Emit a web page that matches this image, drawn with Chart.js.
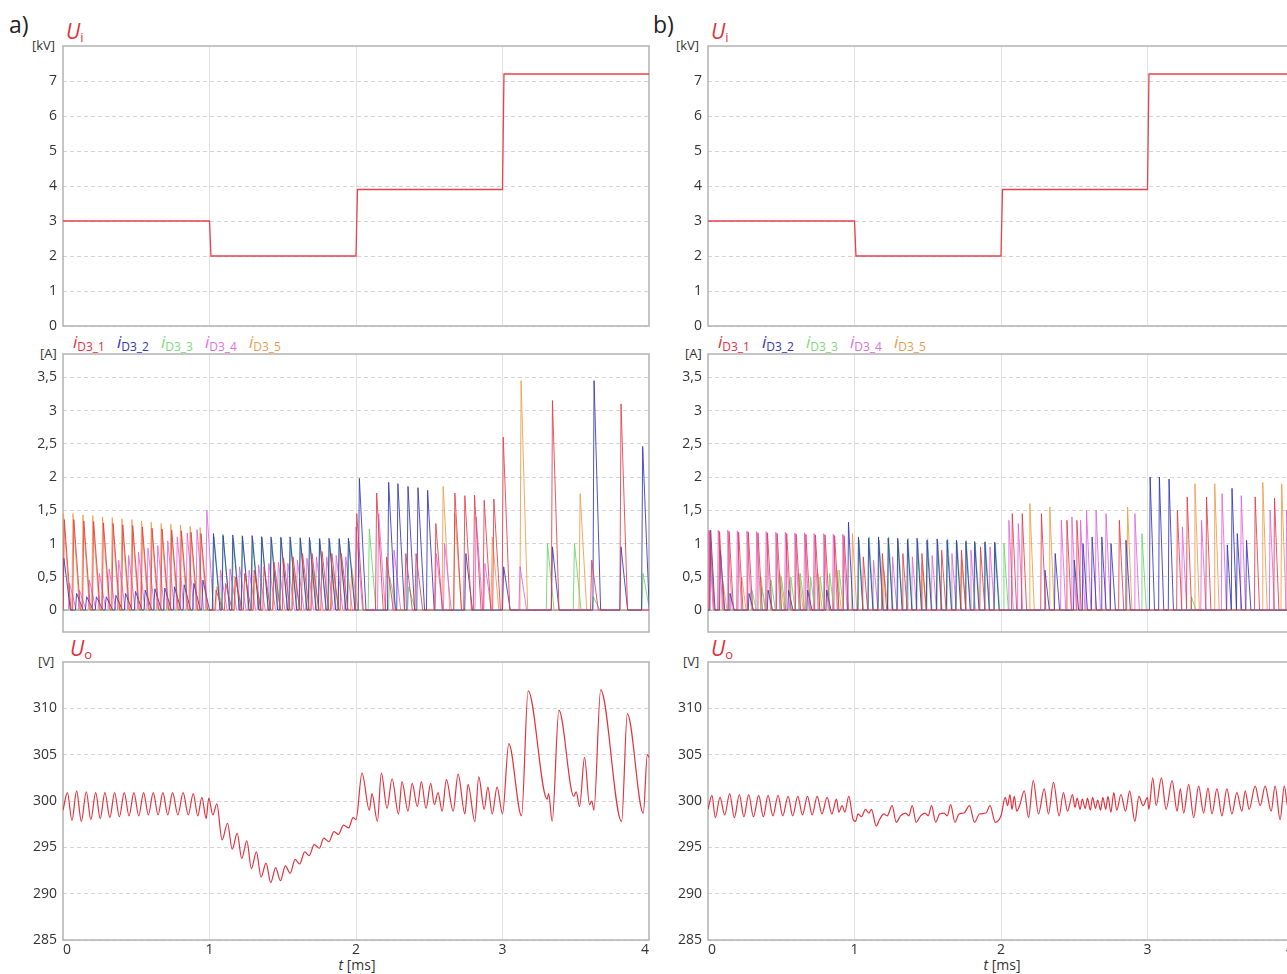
<!DOCTYPE html>
<html>
<head>
<meta charset="utf-8">
<script src="https://cdn.jsdelivr.net/npm/chart.js@4.4.1/dist/chart.umd.min.js"></script>
<style>
  body { margin:0; width:1287px; height:974px; overflow:hidden; background:#fff; position:relative; font-family:'Open Sans', sans-serif; }
  canvas { position:absolute; }
  .t { position:absolute; white-space:nowrap; color:#333; line-height:1; }
  .tag { font-size:23px; color:#222; }
  .unit { font-size:13px; }
  .U { color:#e0303c; font-size:21px; }
  .U sub { font-size:13px; vertical-align:-3px; }
  .leg span { display:inline-block; width:44px; }
  .leg i { font-size:17px; }
  .leg sub { font-size:12px; vertical-align:-3px; }
  .ax { font-size:14px; transform:translateX(-50%); }
</style>
</head>
<body>
<div class="t tag" style="left:9px;top:13px">a)</div>
<div class="t tag" style="left:653px;top:13px">b)</div>

<div class="t unit" style="left:32px;top:39px">[kV]</div>
<div class="t unit" style="left:676px;top:39px">[kV]</div>
<div class="t U" style="left:66px;top:21px"><i>U</i><sub>i</sub></div>
<div class="t U" style="left:711px;top:21px"><i>U</i><sub>i</sub></div>

<div class="t leg" id="legA" style="left:73px;top:333px"></div>
<div class="t leg" id="legB" style="left:718px;top:333px"></div>
<div class="t unit" style="left:40px;top:347px">[A]</div>
<div class="t unit" style="left:685px;top:347px">[A]</div>

<div class="t U" style="left:70px;top:638px"><i>U</i><sub>o</sub></div>
<div class="t U" style="left:711px;top:638px"><i>U</i><sub>o</sub></div>
<div class="t unit" style="left:38px;top:655px">[V]</div>
<div class="t unit" style="left:683px;top:655px">[V]</div>

<div class="t ax" style="left:357px;top:958px"><i>t</i> [ms]</div>
<div class="t ax" style="left:1002px;top:958px"><i>t</i> [ms]</div>

<canvas id="aUi" width="660" height="300" style="left:0;top:40px"></canvas>
<canvas id="aI" width="660" height="300" style="left:0;top:348px"></canvas>
<canvas id="aUo" width="660" height="318" style="left:0;top:656px"></canvas>
<canvas id="bUi" width="660" height="300" style="left:645px;top:40px"></canvas>
<canvas id="bI" width="660" height="300" style="left:645px;top:348px"></canvas>
<canvas id="bUo" width="660" height="318" style="left:645px;top:656px"></canvas>

<script>
// axes
const tTicks = [0, 1, 2, 3, 4];
const uiTicks = [0, 1, 2, 3, 4, 5, 6, 7];
const iTicks = [0, 0.5, 1, 1.5, 2, 2.5, 3, 3.5];
const uoTicks = [285, 290, 295, 300, 305, 310];

// input voltage Ui [kV] (same in a and b)
const uiT = [0, 1, 1.01, 2, 2.01, 3, 3.01, 4];
const uiV = [3, 3, 2, 2, 3.9, 3.9, 7.2, 7.2];

// diode current pulses, panel a: peak time [ms] and peak value [A]
const aD1T = [0.009, 0.074, 0.142, 0.209, 0.276, 0.342, 0.408, 0.476, 0.542, 0.608, 0.676, 0.742, 0.808, 0.874, 0.942,
  1.045, 1.11, 1.175, 1.24, 1.305, 1.372, 1.44, 1.505, 1.57, 1.635, 1.7, 1.768, 1.835, 1.9, 2.005,
  2.141, 2.209, 2.34, 2.41, 2.545, 2.675, 2.743, 2.809, 2.875, 2.941, 3.005, 3.341, 3.609, 3.809];
const aD1P = [1.36, 1.36, 1.34, 1.33, 1.31, 1.3, 1.28, 1.27, 1.25, 1.23, 1.22, 1.2, 1.19, 1.17, 1.15,
  0.3, 0.4, 0.5, 0.55, 0.6, 0.65, 0.72, 0.78, 0.8, 0.85, 0.85, 0.88, 0.85, 0.85, 1.45,
  1.76, 0.8, 0.85, 0.85, 1.3, 1.76, 1.72, 1.73, 1.65, 1.67, 2.6, 3.15, 0.75, 3.1];
const aD2T = [0.006, 0.093, 0.161, 0.228, 0.295, 0.361, 0.427, 0.495, 0.561, 0.627, 0.695, 0.761, 0.827, 0.893, 0.955,
  1.027, 1.093, 1.159, 1.225, 1.291, 1.357, 1.42, 1.488, 1.55, 1.62, 1.682, 1.752, 1.816, 1.886, 1.948,
  2.023, 2.223, 2.286, 2.355, 2.423, 2.489, 2.75, 3.008, 3.341, 3.625, 3.809, 3.957];
const aD2P = [0.78, 0.25, 0.2, 0.2, 0.2, 0.22, 0.25, 0.28, 0.3, 0.32, 0.33, 0.35, 0.38, 0.4, 0.45,
  1.15, 1.12, 1.13, 1.11, 1.12, 1.1, 1.1, 1.09, 1.1, 1.08, 1.09, 1.07, 1.08, 1.07, 1.08,
  1.98, 1.92, 1.9, 1.86, 1.84, 1.8, 0.85, 0.65, 0.95, 3.45, 0.95, 2.46];
const aD3T = [1.031, 1.091, 1.163, 1.223, 1.295, 1.355, 1.424, 1.486, 1.554, 1.618, 1.686, 1.75, 1.82, 1.884, 1.952,
  2.091, 2.23, 2.36, 3.307, 3.491, 3.62, 3.959];
const aD3P = [1.1, 1.14, 1.08, 1.12, 1.07, 1.11, 1.06, 1.1, 1.05, 1.09, 1.05, 1.08, 1.04, 1.08, 1.04,
  1.22, 0.5, 0.35, 1.0, 1.0, 0.2, 0.55];
const aD4T = [0.045, 0.112, 0.18, 0.248, 0.315, 0.38, 0.448, 0.515, 0.58, 0.647, 0.715, 0.78, 0.848, 0.915, 0.982,
  1.075, 1.14, 1.205, 1.27, 1.335, 1.405, 1.47, 1.535, 1.6, 1.665, 1.73, 1.8, 1.865, 1.93, 2.0,
  2.155, 2.26, 2.548, 2.605, 2.82, 2.88, 3.12];
const aD4P = [0.4, 0.3, 0.45, 0.55, 0.62, 0.75, 0.82, 0.87, 0.93, 0.97, 1.04, 1.1, 1.16, 1.21, 1.5,
  0.6, 0.62, 0.65, 0.6, 0.68, 0.7, 0.72, 0.7, 0.75, 0.78, 0.8, 0.8, 0.82, 0.8, 1.25,
  1.45, 0.9, 0.85, 1.0, 1.4, 0.7, 0.65];
const aD5T = [0.003, 0.068, 0.136, 0.203, 0.27, 0.336, 0.402, 0.47, 0.536, 0.602, 0.67, 0.736, 0.802, 0.868, 0.936,
  1.05, 1.18, 1.31, 1.44, 1.575, 1.705, 1.84, 1.97, 2.595, 2.675, 2.93, 3.127, 3.53];
const aD5P = [1.45, 1.45, 1.43, 1.42, 1.4, 1.39, 1.37, 1.36, 1.34, 1.32, 1.3, 1.29, 1.28, 1.26, 1.24,
  0.35, 0.45, 0.5, 0.55, 0.6, 0.62, 0.62, 0.65, 1.86, 1.45, 1.1, 3.45, 1.75];

// diode current pulses, panel b
const bD1T = [0.014, 0.079, 0.144, 0.209, 0.275, 0.341, 0.406, 0.472, 0.537, 0.602, 0.668, 0.733, 0.799, 0.864, 0.929,
  1.06, 1.19, 1.33, 1.46, 1.595, 1.73, 1.86,
  2.077, 2.145, 2.276, 2.45, 2.518, 2.808, 3.204, 3.271, 3.403, 3.735, 3.867, 3.99];
const bD1P = [1.18, 1.18, 1.18, 1.17, 1.17, 1.16, 1.16, 1.15, 1.15, 1.14, 1.14, 1.13, 1.13, 1.12, 1.12,
  0.8, 0.85, 0.85, 0.85, 0.9, 0.9, 0.95,
  1.45, 1.45, 1.45, 1.35, 1.35, 1.35, 1.5, 1.7, 1.7, 1.7, 1.68, 1.6];
const bD2T = [0.018, 0.084, 0.15, 0.28, 0.41, 0.55, 0.68, 0.81, 0.959,
  1.027, 1.096, 1.164, 1.23, 1.295, 1.362, 1.427, 1.495, 1.564, 1.632, 1.696, 1.76, 1.82, 1.89, 1.957,
  2.3, 2.37, 2.5, 2.56, 2.622, 2.688, 2.751, 2.853, 3.018, 3.081, 3.147, 3.545, 3.577, 3.613, 3.676];
const bD2P = [1.2, 0.9, 0.25, 0.25, 0.3, 0.3, 0.3, 0.3, 1.32,
  1.1, 1.08, 1.1, 1.08, 1.08, 1.06, 1.08, 1.05, 1.07, 1.05, 1.05, 1.03, 1.03, 1.02, 1.02,
  0.6, 0.85, 0.75, 1.0, 1.1, 1.1, 1.0, 1.05, 2.0, 2.0, 1.97, 0.98, 1.83, 1.15, 1.05];
const bD3T = [0.3, 0.365, 0.43, 0.5, 0.565, 0.63, 0.7, 0.765, 0.83, 0.895,
  1.031, 1.1, 1.168, 1.233, 1.299, 1.365, 1.431, 1.499, 1.568, 1.636, 1.7, 1.763, 1.824, 1.893, 1.961,
  2.02, 2.962, 3.3];
const bD3P = [0.3, 0.35, 0.45, 0.5, 0.5, 0.55, 0.5, 0.5, 0.55, 0.6,
  1.05, 1.1, 1.05, 1.1, 1.04, 1.08, 1.04, 1.07, 1.03, 1.07, 1.02, 1.05, 1.01, 1.03, 1.0,
  1.0, 1.15, 0.2];
const bD4T = [0.005, 0.07, 0.135, 0.2, 0.266, 0.332, 0.397, 0.463, 0.528, 0.593, 0.659, 0.724, 0.79, 0.855, 0.92,
  1.13, 1.26, 1.395, 1.53, 1.665, 1.795, 1.925,
  2.054, 2.118, 2.412, 2.484, 2.543, 2.584, 2.649, 2.717, 2.914, 3.238, 3.369, 3.509, 3.64, 3.837, 3.95];
const bD4P = [1.2, 1.2, 1.2, 1.19, 1.19, 1.18, 1.18, 1.17, 1.17, 1.16, 1.16, 1.15, 1.15, 1.14, 1.14,
  0.75, 0.8, 0.8, 0.82, 0.85, 0.9, 0.95,
  1.35, 1.3, 1.35, 1.4, 1.35, 1.5, 1.5, 1.45, 1.45, 1.25, 1.35, 1.75, 1.72, 1.5, 1.5];
const bD5T = [0.01, 0.1, 0.23, 0.36, 0.49, 0.62, 0.75, 0.88, 0.986, 1.2, 1.46, 1.73,
  2.197, 2.333, 2.864, 3.324, 3.459, 3.787, 3.916];
const bD5P = [1.2, 0.45, 0.5, 0.5, 0.55, 0.55, 0.55, 0.6, 1.15, 0.6, 0.7, 0.75,
  1.6, 1.55, 1.55, 1.9, 1.9, 1.92, 1.9];

// output voltage Uo [V], turning points
const uoAT = [0, 0.030, 0.061, 0.093, 0.125, 0.159, 0.19, 0.223, 0.254, 0.286, 0.32, 0.352, 0.385, 0.418, 0.451, 0.484,
  0.517, 0.55, 0.583, 0.616, 0.649, 0.682, 0.715, 0.748, 0.784, 0.82, 0.855, 0.889, 0.92, 0.948, 0.977, 0.995, 1.023,
  1.05, 1.086, 1.123, 1.155, 1.189, 1.22, 1.255, 1.286, 1.32, 1.352, 1.386, 1.418, 1.452, 1.484, 1.518, 1.55,
  1.585, 1.615, 1.65, 1.68, 1.715, 1.75, 1.78, 1.815, 1.85, 1.88, 1.915, 1.95, 1.98, 2.0,
  2.041, 2.091, 2.109, 2.146, 2.173, 2.212, 2.246, 2.29, 2.314, 2.355, 2.383, 2.419, 2.446, 2.478, 2.51, 2.535,
  2.56, 2.588, 2.617, 2.663, 2.697, 2.743, 2.765, 2.811, 2.838, 2.875, 2.9, 2.93, 2.963, 3.0,
  3.043, 3.13, 3.175, 3.305, 3.315, 3.339, 3.385, 3.487, 3.503, 3.526, 3.56, 3.594, 3.61, 3.624, 3.67, 3.813,
  3.852, 3.961, 3.989, 4.0];
const uoAV = [299.0, 300.9, 297.9, 301.1, 297.8, 301.0, 298.0, 300.9, 298.1, 300.9, 298.2, 300.9, 298.3, 300.9, 298.4, 300.9,
  298.4, 300.9, 298.5, 300.9, 298.5, 300.9, 298.5, 300.9, 298.5, 300.9, 298.5, 300.8, 298.4, 300.4, 298.1, 300.3, 298.5,
  299.7, 295.8, 297.6, 294.8, 296.5, 293.8, 295.7, 292.7, 294.5, 291.8, 293.3, 291.2, 292.8, 291.4, 293.0, 292.2,
  293.7, 293.2, 294.5, 294.1, 295.3, 294.9, 296.0, 295.6, 296.7, 296.4, 297.4, 297.1, 298.2, 298.0,
  303.0, 299.0, 300.8, 297.8, 303.0, 299.2, 302.4, 298.6, 302.1, 298.9, 301.9, 299.4, 302.1, 299.2, 301.9, 299.6,
  300.9, 298.9, 302.3, 298.9, 302.9, 298.6, 301.8, 297.8, 302.6, 299.1, 301.5, 298.6, 301.5, 298.6,
  306.2, 298.4, 311.9, 300.2, 300.8, 297.8, 309.8, 300.5, 301.0, 299.4, 304.7, 299.6, 300.0, 299.0, 312.0, 297.8,
  309.4, 298.7, 305.0, 304.7];
const uoBT = [0, 0.027, 0.05, 0.082, 0.114, 0.148, 0.18, 0.214, 0.245, 0.278, 0.31, 0.346, 0.378, 0.41, 0.443, 0.478,
  0.51, 0.547, 0.578, 0.613, 0.645, 0.679, 0.711, 0.745, 0.778, 0.813, 0.845, 0.877, 0.893, 0.916, 0.934, 0.961, 0.991,
  1.007, 1.025, 1.048, 1.075, 1.098, 1.116, 1.148, 1.171, 1.2, 1.223, 1.257, 1.285, 1.314, 1.349, 1.371, 1.394,
  1.421, 1.451, 1.481, 1.503, 1.526, 1.554, 1.581, 1.61, 1.633, 1.656, 1.686, 1.713, 1.747, 1.785, 1.819, 1.853,
  1.898, 1.925, 1.961, 2.0,
  2.029, 2.045, 2.061, 2.075, 2.091, 2.107, 2.129, 2.159, 2.188, 2.22, 2.256, 2.295, 2.324, 2.358, 2.397, 2.426,
  2.454, 2.488, 2.505, 2.52, 2.54, 2.555, 2.575, 2.59, 2.61, 2.625, 2.645, 2.66, 2.68, 2.695, 2.715, 2.73, 2.75,
  2.77, 2.79, 2.819, 2.85, 2.878, 2.914, 2.941, 2.97, 3.0, 3.009,
  3.036, 3.059, 3.095, 3.127, 3.168, 3.202, 3.224, 3.247, 3.281, 3.315, 3.349, 3.383, 3.413, 3.44, 3.474, 3.508,
  3.542, 3.576, 3.61, 3.644, 3.667, 3.694, 3.735, 3.769, 3.803, 3.844, 3.871, 3.905, 3.934, 3.961, 4.0];
const uoBV = [299.1, 300.6, 298.2, 300.4, 298.5, 300.8, 298.2, 300.7, 298.3, 300.7, 298.3, 300.6, 298.3, 300.6, 298.4, 300.6,
  298.4, 300.5, 298.4, 300.5, 298.5, 300.5, 298.5, 300.5, 298.6, 300.4, 298.6, 300.2, 298.8, 299.5, 298.8, 300.5, 298.0,
  297.8, 298.6, 298.3, 299.1, 298.7, 299.1, 297.3, 298.0, 298.6, 298.4, 299.5, 297.7, 298.4, 298.7, 298.4, 299.5,
  297.7, 298.4, 298.7, 298.4, 299.5, 297.7, 298.6, 298.7, 298.4, 299.6, 297.7, 298.6, 298.7, 299.5, 297.7, 298.6,
  298.7, 299.5, 297.7, 298.4,
  300.4, 299.5, 300.7, 299.1, 300.5, 298.9, 299.6, 301.1, 298.2, 302.2, 298.6, 301.3, 298.6, 302.0, 298.4, 300.9,
  298.9, 300.7, 299.3, 300.3, 299.1, 300.2, 299.2, 300.3, 299.0, 300.4, 299.2, 300.1, 299.0, 300.4, 299.1, 300.5, 298.8,
  300.9, 299.0, 300.7, 298.9, 301.1, 297.8, 300.5, 299.5, 300.4, 299.1,
  302.5, 299.5, 302.5, 299.1, 302.2, 298.9, 301.3, 298.7, 301.8, 298.2, 301.6, 298.7, 301.4, 298.6, 301.3, 298.4,
  301.3, 298.6, 300.9, 298.9, 301.1, 299.1, 301.6, 299.5, 301.6, 298.9, 301.6, 298.0, 301.6, 299.1, 300.8];

const diodeNames = ['D3_1', 'D3_2', 'D3_3', 'D3_4', 'D3_5'];
const diodeColors = ['rgba(228,60,72,0.85)', 'rgba(52,52,184,0.85)', 'rgba(110,214,110,0.9)', 'rgba(224,100,224,0.85)', 'rgba(240,160,80,0.9)'];
const legendColors = ['#e3303c', '#3434b0', '#7ed87e', '#e070e0', '#e8a050'];

Chart.defaults.font.family = "'Open Sans', sans-serif";

function zip(ts, vs) {
    const n = Math.min(ts.length, vs.length);
    const out = [];
    for (let i = 0; i < n; i++) out.push({ x: ts[i], y: vs[i] });
    return out;
}

// each pulse: fast rise to its peak, linear fall back to zero
function pulses(ts, ps, rise, fall) {
    const out = [{ x: -0.1, y: 0 }];
    for (let i = 0; i < ts.length; i++) {
        let start = ts[i] - rise;
        let end = ts[i] + fall;
        const last = out[out.length - 1].x;
        if (start < last) start = last;
        if (i + 1 < ts.length && end > ts[i + 1] - rise) end = ts[i + 1] - rise;
        out.push({ x: start, y: 0 }, { x: ts[i], y: ps[i] }, { x: end, y: 0 });
    }
    out.push({ x: 4.1, y: 0 });
    return out;
}

const frame = {
    id: 'frame',
    beforeDatasetsDraw(chart) {
        const a = chart.chartArea, ctx = chart.ctx;
        ctx.save();
        ctx.strokeStyle = '#b2b2b2';
        ctx.lineWidth = 1.5;
        ctx.strokeRect(a.left, a.top, a.right - a.left, a.bottom - a.top);
        ctx.restore();
    }
};

function makeChart(id, datasets, yMin, yMax, yTicks, xHeight, showX) {
    return new Chart(document.getElementById(id), {
        type: 'line',
        data: { datasets: datasets },
        options: {
            responsive: false,
            animation: false,
            layout: { padding: { top: 6, right: 11, left: 0, bottom: 0 } },
            plugins: { legend: { display: false }, tooltip: { enabled: false } },
            elements: { point: { radius: 0 }, line: { borderWidth: 1, tension: 0 } },
            scales: {
                x: {
                    type: 'linear', min: 0, max: 4,
                    afterBuildTicks: s => { s.ticks = tTicks.map(v => ({ value: v })); },
                    afterFit: s => { s.height = xHeight; s.paddingLeft = 0; s.paddingRight = 0; },
                    ticks: { display: showX, align: 'inner', padding: 2, maxRotation: 0, color: '#333', font: { size: 14 } },
                    grid: {
                        drawTicks: false,
                        color: ctx => (ctx.tick && (ctx.tick.value === 0 || ctx.tick.value === 4)) ? 'rgba(0,0,0,0)' : '#e2e2e2'
                    },
                    border: { display: false }
                },
                y: {
                    type: 'linear', min: yMin, max: yMax,
                    afterBuildTicks: s => { s.ticks = yTicks.map(v => ({ value: v })); },
                    afterFit: s => { s.width = 63; s.paddingTop = 0; s.paddingBottom = 0; },
                    ticks: { padding: 6, color: '#333', font: { size: 14 }, callback: v => String(v).replace('.', ',') },
                    grid: { drawTicks: false, color: '#d4d4d4' },
                    border: { display: false, dash: [4, 3] }
                }
            }
        },
        plugins: [frame]
    });
}

function currentSets(list, rise, fall) {
    return list.map((d, i) => ({
        data: pulses(d[0], d[1], rise, fall),
        borderColor: diodeColors[i],
        borderWidth: 1
    }));
}

function buildLegend(id) {
    const el = document.getElementById(id);
    el.innerHTML = diodeNames.map((n, i) =>
        `<span style="color:${legendColors[i]}"><i>i</i><sub>${n}</sub></span>`).join('');
}

document.addEventListener('DOMContentLoaded', () => {
    buildLegend('legA');
    buildLegend('legB');

    const uiSet = () => [{ data: zip(uiT, uiV), borderColor: '#e8404c', borderWidth: 1.3 }];
    makeChart('aUi', uiSet(), 0, 8, uiTicks, 14, false);
    makeChart('bUi', uiSet(), 0, 8, uiTicks, 14, false);

    makeChart('aI', currentSets([[aD1T, aD1P], [aD2T, aD2P], [aD3T, aD3P], [aD4T, aD4P], [aD5T, aD5P]], 0.008, 0.045),
        -0.33, 3.85, iTicks, 16, false);
    makeChart('bI', currentSets([[bD1T, bD1P], [bD2T, bD2P], [bD3T, bD3P], [bD4T, bD4P], [bD5T, bD5P]], 0.005, 0.03),
        -0.33, 3.85, iTicks, 16, false);

    const uoSet = (ts, vs) => [{ data: zip(ts, vs), borderColor: '#e2333f', borderWidth: 1.2, cubicInterpolationMode: 'monotone' }];
    makeChart('aUo', uoSet(uoAT, uoAV), 285, 315, uoTicks, 34, true);
    makeChart('bUo', uoSet(uoBT, uoBV), 285, 315, uoTicks, 34, true);
});
</script>
</body>
</html>
